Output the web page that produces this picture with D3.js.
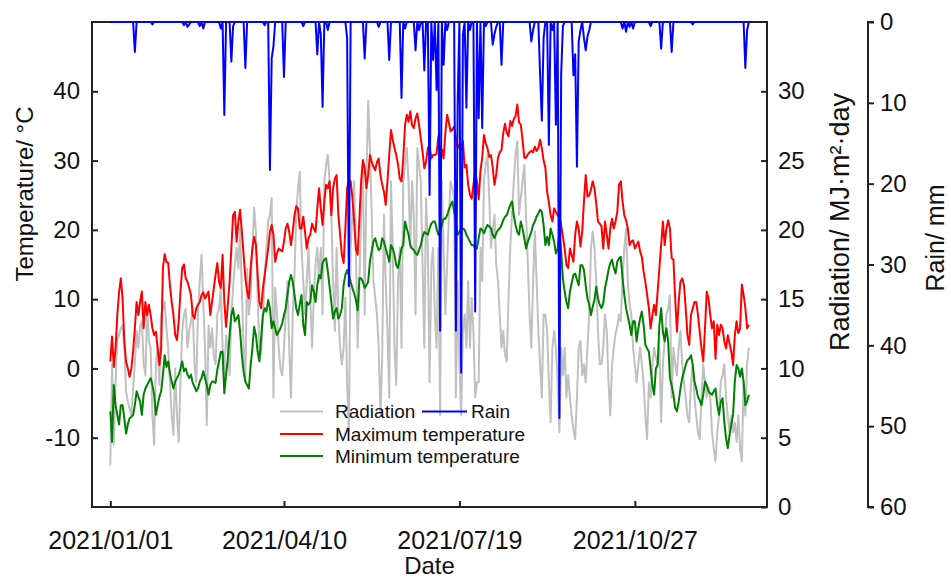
<!DOCTYPE html>
<html>
<head>
<meta charset="utf-8">
<script src="https://cdn.jsdelivr.net/npm/d3@7"></script>
<style>
  body { margin: 0; background: #fff; }
  svg { display: block; }
  text { font-family: "Liberation Sans", Arial, sans-serif; fill: #111; }
</style>
</head>
<body>
<svg id="chart" width="951" height="578"></svg>
<script>
// Daily weather record for 2021
const startDate = "2021-01-01";
const tickDates = ["2021-01-01", "2021-04-10", "2021-07-19", "2021-10-27"];
const tempTicks = [-10, 0, 10, 20, 30, 40];
const radTicks = [0, 5, 10, 15, 20, 25, 30];
const rainTicks = [0, 10, 20, 30, 40, 50, 60];

// Maximum temperature, °C
const tmax = [
  1.0, 4.6, 0.2, 2.9, 7.7, 11.0, 13.0, 10.1, 3.9, 1.0,
  0.0, -1.2, 0.0, 2.4, 5.8, 9.6, 7.7, 9.6, 11.1, 5.8,
  9.6, 7.7, 9.2, 7.7, 5.8, 4.8, 5.3, 2.9, 0.5, 2.9,
  14.5, 16.5, 15.4, 15.2, 12.0, 9.6, 7.7, 4.8, 4.1, 6.8,
  11.1, 14.5, 15.0, 13.0, 12.5, 11.6, 10.6, 7.7, 7.2, 8.7,
  9.2, 9.6, 10.6, 11.0, 10.1, 10.6, 11.1, 7.7, 9.6, 11.6,
  13.5, 15.2, 12.5, 11.6, 16.4, 9.6, 6.0, 9.2, 12.5, 17.3,
  22.1, 22.6, 18.3, 21.2, 22.9, 19.7, 16.4, 13.0, 11.1, 10.1,
  14.5, 17.3, 19.0, 17.8, 13.5, 9.6, 8.7, 11.6, 13.5, 15.4,
  17.3, 19.7, 20.7, 19.3, 15.4, 16.6, 17.3, 17.1, 16.9, 18.3,
  20.2, 20.9, 19.7, 17.8, 19.7, 22.1, 23.4, 23.1, 20.2, 20.2,
  21.9, 19.7, 17.3, 18.8, 19.3, 20.9, 20.2, 19.7, 23.1, 26.0,
  23.1, 20.7, 24.1, 26.5, 26.0, 27.0, 22.1, 26.0, 27.4, 27.9,
  22.1, 19.3, 16.4, 15.2, 20.2, 26.0, 27.2, 27.0, 24.6, 21.2,
  17.3, 16.4, 21.6, 27.0, 30.1, 28.9, 26.0, 27.9, 30.8, 29.8,
  29.1, 28.6, 29.8, 30.3, 27.9, 26.5, 25.5, 23.6, 27.0, 30.8,
  34.4, 33.0, 31.8, 30.8, 29.4, 27.4, 27.0, 30.3, 35.1, 36.6,
  35.6, 37.1, 35.1, 34.7, 36.1, 36.8, 35.1, 33.2, 31.3, 28.9,
  29.8, 31.8, 32.2, 30.3, 30.8, 30.8, 31.0, 33.5, 31.5, 31.6,
  30.3, 34.0, 36.6, 35.5, 34.2, 34.5, 34.9, 33.2, 31.8, 32.3,
  31.5, 32.8, 29.0, 29.4, 26.5, 25.1, 24.5, 26.5, 28.5, 27.0,
  24.4, 28.5, 30.4, 33.7, 32.5, 31.8, 30.5, 30.8, 29.0, 26.5,
  28.0, 30.4, 31.2, 31.5, 34.0, 35.3, 34.0, 33.5, 35.7, 35.0,
  36.0, 36.4, 38.1, 35.5, 35.2, 33.0, 30.4, 30.4, 30.9, 31.2,
  31.4, 31.2, 32.0, 31.4, 31.8, 33.0, 31.8, 30.0, 29.0, 25.5,
  24.0, 22.1, 21.2, 23.1, 22.6, 22.1, 22.1, 20.7, 19.0, 17.3,
  14.9, 14.5, 17.3, 16.4, 15.4, 19.3, 21.2, 20.2, 17.6, 19.7,
  24.1, 27.9, 24.8, 25.0, 25.8, 27.0, 26.0, 23.8, 21.2, 20.9,
  20.5, 17.3, 21.2, 19.3, 17.3, 20.2, 21.6, 20.2, 21.2, 22.6,
  26.5, 27.0, 24.1, 22.1, 21.4, 20.2, 17.8, 18.3, 18.5, 17.3,
  17.8, 18.3, 16.9, 16.1, 14.0, 12.5, 10.6, 8.7, 5.8, 7.7,
  9.2, 7.7, 11.1, 14.5, 17.8, 21.2, 17.8, 20.2, 21.4, 20.2,
  15.9, 15.7, 10.1, 5.3, 9.6, 12.5, 13.0, 12.0, 8.7, 4.8,
  3.4, 7.7, 8.7, 9.6, 9.6, 7.7, 5.3, 2.9, 1.0, 5.8,
  11.1, 10.1, 7.7, 5.8, 6.8, 1.4, 6.3, 4.8, 6.3, 5.8,
  3.9, 2.9, 4.8, 3.6, 2.4, 0.5, 4.8, 6.8, 5.1, 5.8,
  12.1, 10.6, 8.7, 5.8, 6.3
];

// Minimum temperature, °C
const tmin = [
  -6.2, -10.6, -2.4, -5.3, -6.7, -8.1, -5.3, -5.3, -7.2, -9.4,
  -8.1, -7.2, -7.0, -6.7, -5.3, -3.3, -4.1, -4.8, -6.7, -3.8,
  -2.9, -2.4, -1.9, -1.4, -2.4, -3.8, -6.7, -5.3, -4.1, -3.3,
  -0.9, 1.9, 0.2, 1.0, -0.7, -1.9, -2.9, -1.9, -1.4, -0.9,
  0.0, 1.0, -0.4, 0.0, -0.9, -1.4, -0.9, -2.1, -2.6, -3.3,
  -2.9, -1.9, -1.4, -0.4, -1.4, -2.4, -3.8, -2.4, -1.9, -1.9,
  -2.1, -0.2, 1.0, 2.4, 2.4, -3.6, -0.9, 1.4, 4.8, 7.7,
  8.7, 6.8, 7.2, 7.7, 5.3, 1.9, -0.5, -1.9, -2.4, -2.9,
  0.5, 2.9, 6.0, 4.8, 2.4, 1.0, 4.4, 7.7, 8.7, 8.2,
  9.9, 8.7, 5.8, 6.8, 5.8, 4.8, 5.3, 5.8, 6.5, 7.7,
  8.7, 10.6, 12.5, 13.5, 12.5, 10.6, 8.7, 7.7, 9.2, 10.6,
  6.3, 4.8, 9.6, 9.2, 9.6, 12.0, 11.1, 9.6, 12.0, 13.5,
  13.0, 15.2, 15.7, 15.9, 14.0, 11.8, 9.6, 7.2, 8.2, 8.7,
  7.2, 7.7, 8.7, 12.0, 13.5, 14.2, 13.5, 12.5, 11.6, 10.8,
  9.9, 8.4, 13.0, 13.0, 12.5, 11.6, 12.0, 12.5, 15.4, 16.9,
  18.3, 18.8, 17.8, 17.1, 17.3, 18.8, 18.3, 17.3, 16.4, 15.4,
  17.8, 17.3, 16.4, 14.9, 14.5, 15.9, 17.3, 17.8, 21.2, 20.2,
  19.3, 17.8, 17.3, 17.1, 16.6, 16.4, 17.1, 17.8, 19.0, 19.7,
  19.5, 19.3, 20.2, 20.9, 21.2, 21.2, 20.2, 19.3, 19.7, 20.7,
  21.6, 21.6, 22.1, 22.9, 23.6, 24.1, 22.6, 21.2, 19.3, 19.7,
  20.2, 20.2, 20.0, 19.3, 18.8, 18.3, 17.8, 17.8, 17.3, 17.3,
  18.8, 20.2, 20.0, 19.5, 20.2, 20.7, 20.5, 20.2, 19.3, 18.8,
  19.5, 20.0, 20.2, 20.7, 21.4, 21.9, 22.1, 22.9, 23.6, 24.1,
  22.1, 20.7, 19.7, 19.3, 21.2, 20.2, 18.8, 17.3, 18.3, 19.0,
  19.7, 20.7, 21.2, 21.9, 22.4, 22.9, 22.6, 20.7, 17.8, 19.0,
  17.8, 20.2, 19.3, 18.3, 16.6, 17.3, 19.7, 16.9, 13.0, 11.1,
  9.6, 8.7, 11.1, 12.3, 13.5, 13.7, 12.8, 12.0, 14.9, 14.9,
  14.2, 12.0, 10.1, 9.2, 7.7, 8.9, 9.9, 11.8, 10.1, 9.2,
  8.7, 9.4, 11.6, 12.8, 14.2, 15.2, 15.7, 14.5, 13.7, 15.4,
  15.9, 16.1, 13.0, 10.6, 8.7, 7.5, 6.3, 4.8, 6.8, 6.8,
  3.9, 5.8, 7.2, 8.2, 6.3, 3.4, 2.9, 2.4, 0.0, -2.4,
  -3.8, 0.0, 0.5, 6.3, 8.7, 5.3, 3.9, 5.8, 3.9, -1.4,
  -2.4, -3.8, -5.7, -6.2, -4.8, -2.9, -1.4, -0.5, 0.5, 1.2,
  1.4, 1.9, 0.5, -1.9, -2.9, -4.1, -4.6, -5.3, -3.8, -1.9,
  -2.4, -3.3, -3.6, -3.8, -3.3, -2.9, -5.3, -6.7, -4.8, -4.3,
  -7.7, -10.1, -11.5, -9.6, -8.1, -6.7, -1.9, 0.5, 0.0, -1.2,
  0.0, -1.9, -5.3, -4.8, -3.8
];

// Solar radiation, MJ·m⁻²·day⁻¹
const radiation = [
  3.0, 10.3, 4.5, 9.0, 12.0, 12.4, 12.9, 13.1, 11.5, 8.3,
  7.6, 7.1, 6.6, 8.6, 10.3, 12.7, 11.5, 13.1, 13.4, 10.3,
  9.5, 14.3, 12.0, 11.5, 6.6, 4.5, 10.3, 11.5, 8.8, 13.9,
  14.3, 14.8, 12.9, 11.5, 9.0, 6.6, 5.2, 10.0, 6.6, 4.7,
  9.0, 12.7, 13.9, 14.3, 11.5, 12.7, 13.4, 14.3, 10.3, 9.0,
  13.9, 16.3, 18.2, 14.8, 11.5, 5.9, 13.1, 11.5, 12.9, 10.9,
  10.3, 13.9, 14.3, 15.8, 11.5, 9.5, 12.4, 11.5, 9.5, 13.9,
  15.8, 17.5, 18.7, 17.2, 20.1, 15.5, 11.5, 9.0, 17.2, 13.9,
  15.1, 18.7, 21.6, 19.9, 15.1, 11.5, 11.0, 13.9, 16.3, 18.7,
  20.6, 21.1, 22.3, 7.9, 15.8, 13.9, 11.5, 10.0, 9.5, 11.5,
  13.9, 16.3, 11.5, 7.9, 13.9, 16.8, 21.1, 23.0, 24.2, 18.7,
  16.3, 13.9, 16.3, 18.7, 15.1, 11.5, 15.1, 17.5, 18.7, 16.3,
  18.7, 13.9, 23.5, 24.7, 25.4, 23.5, 21.1, 16.3, 12.7, 18.7,
  13.9, 11.5, 10.3, 11.5, 15.1, 9.0, 5.4, 18.7, 21.1, 23.5,
  18.7, 11.5, 16.3, 21.1, 24.7, 13.9, 23.5, 29.3, 25.9, 21.1,
  16.3, 15.1, 13.9, 11.5, 6.6, 10.9, 21.1, 16.3, 12.7, 7.9,
  23.5, 18.7, 11.5, 8.8, 16.3, 18.7, 11.5, 23.5, 24.7, 25.9,
  23.5, 18.7, 23.5, 21.1, 13.9, 25.9, 24.7, 23.5, 17.5, 11.5,
  22.3, 18.7, 9.0, 17.5, 18.7, 13.9, 11.5, 18.7, 6.6, 23.5,
  18.7, 13.9, 17.5, 21.1, 23.5, 23.0, 22.3, 7.9, 16.3, 10.3,
  6.6, 12.7, 13.9, 11.5, 16.3, 11.5, 15.1, 12.7, 7.9, 9.0,
  9.0, 18.7, 16.3, 23.5, 24.7, 25.4, 22.3, 18.7, 19.9, 21.1,
  17.5, 16.3, 13.9, 11.5, 12.7, 11.0, 10.5, 15.1, 18.7, 21.1,
  23.5, 25.4, 26.4, 21.1, 22.3, 23.5, 24.7, 21.1, 17.5, 13.9,
  11.5, 16.3, 19.9, 16.3, 12.7, 10.3, 7.9, 13.9, 13.9, 12.7,
  9.0, 6.1, 11.5, 12.7, 11.5, 9.0, 5.4, 11.5, 9.5, 11.5,
  7.9, 9.5, 7.9, 6.6, 5.6, 4.9, 7.9, 11.5, 12.0, 9.5,
  10.3, 9.0, 11.5, 13.9, 18.7, 19.9, 18.7, 16.3, 12.7, 10.3,
  10.3, 11.5, 13.9, 12.7, 9.0, 6.6, 10.3, 11.5, 12.5, 13.0,
  13.9, 13.4, 16.3, 18.7, 20.1, 16.3, 14.6, 13.9, 11.5, 10.3,
  9.0, 10.3, 11.5, 10.3, 9.0, 6.6, 4.9, 9.0, 7.9, 10.3,
  11.5, 10.8, 10.3, 11.5, 6.1, 10.3, 12.0, 13.9, 14.3, 15.3,
  7.9, 11.5, 10.3, 9.5, 11.5, 12.7, 10.3, 9.0, 7.9, 6.6,
  6.1, 9.0, 10.3, 7.9, 6.6, 5.4, 4.9, 7.9, 10.3, 9.0,
  7.9, 8.6, 7.9, 5.4, 4.2, 3.3, 5.4, 6.6, 9.0, 9.5,
  10.3, 7.9, 6.6, 5.4, 6.6, 5.4, 6.1, 4.7, 6.6, 4.2,
  3.3, 9.0, 6.6, 10.3, 11.5
];

// Daily rainfall, mm
const rain = [
  0, 0, 0, 0, 0, 0, 0, 0, 0, 0,
  0, 0, 0, 0, 3.7, 0, 0, 0, 0, 0,
  0, 0, 0, 0, 0.3, 0, 0, 0, 0, 0,
  0, 0, 0, 0, 0, 0, 0, 0, 0, 0,
  0, 0, 0.4, 0, 0.6, 0.3, 0, 0, 0, 0,
  0, 0.5, 0, 0.8, 0, 0, 0, 0, 0, 0,
  0, 0, 0, 0.8, 0, 11.5, 0, 0, 0, 4.9,
  0.5, 0, 0, 0, 0, 0, 0, 5.7, 0, 0,
  0, 0, 0, 0, 0, 0, 0, 0, 0.4, 0,
  0, 18.3, 4.5, 3.0, 0, 0, 0, 0, 0, 6.8,
  0, 0, 0, 0, 0, 0, 0, 0, 0, 0,
  0.5, 0, 0, 0, 0, 0, 0, 0, 4.0, 0,
  1.5, 10.5, 0, 0, 1.0, 0, 0, 0, 0, 0,
  0, 0, 0, 0, 0, 2.0, 32.7, 0, 0, 0,
  0, 0, 0, 0, 0, 4.5, 0, 0, 0, 0,
  0, 0, 0, 0.6, 0, 0, 0, 0, 0, 4.7,
  0, 0, 0, 0, 0, 0, 9.4, 0, 0.8, 0,
  0, 0, 0, 0, 3.5, 0, 1.0, 0, 0, 6.0,
  0, 0, 21.4, 0, 4.7, 0, 8.4, 0, 38.2, 0,
  5.3, 0, 1.0, 0, 0, 0, 0, 38.2, 10.2, 0,
  43.4, 1.6, 0, 10.6, 0, 1.0, 0, 0, 35.8, 0,
  11.9, 0, 13.1, 0, 0.5, 0, 0, 0, 2.8, 1.5,
  0.6, 0, 0, 5.3, 0, 0, 0, 0, 0, 0,
  0, 0, 0, 0, 0, 0, 0, 0, 0, 0,
  2.4, 1.0, 0, 0, 0, 6.5, 12.2, 2.0, 0, 0,
  15.2, 0, 1.0, 0, 12.7, 0, 49.0, 6.6, 0.5, 0,
  0, 0, 0, 0, 6.6, 4.0, 17.9, 2.4, 1.0, 0,
  2.0, 3.5, 1.8, 1.0, 0, 0, 0, 0, 0, 0,
  0, 0, 0, 0, 0, 0, 0, 0, 0, 0,
  0, 0, 0.8, 0, 1.2, 0, 0.6, 0, 0.8, 0,
  0, 0, 0, 0, 0, 0, 0, 0, 0.5, 0,
  0, 0, 0, 0, 3.3, 0, 0, 0, 0, 0,
  3.7, 0, 0, 0, 0, 0, 0, 0, 0, 0,
  0, 0, 0.3, 0, 0, 0, 0, 0, 0, 0,
  0, 0, 0, 0, 0, 0, 0, 0, 0, 0,
  0, 0, 0, 0, 0, 0, 0, 0, 0, 0,
  0, 0, 5.7, 1.0, 0
];

const svg = d3.select("#chart");
const plot = { left: 92, right: 767, top: 22, bottom: 507 };
const rainAxisX = 868;
const axisColor = "#222";

const parseDay = d3.utcParse("%Y-%m-%d");
const day0 = parseDay(startDate);
const DAY = 864e5;
const dateAt = i => new Date(day0.getTime() + i * DAY);

const x = d3.scaleUtc()
  .domain([dateAt(-10.43), dateAt(374.34)])
  .range([plot.left, plot.right]);
const yTemp = d3.scaleLinear().domain([-20, 50]).range([plot.bottom, plot.top]);
const yRad = d3.scaleLinear().domain([0, 35]).range([plot.bottom, plot.top]);
const yRain = d3.scaleLinear().domain([0, 60]).range([plot.top, plot.bottom]);

// plain hyphen-minus for negative tick labels
const plainNum = d => String(d);

function styleAxis(g, size) {
  g.select(".domain").remove();
  g.selectAll(".tick line").attr("stroke", axisColor).attr("stroke-width", 2);
  g.selectAll(".tick text")
    .style("font-size", size + "px")
    .attr("fill", "#111");
}

// Left temperature axis (ticks point inward)
svg.append("g")
  .attr("transform", `translate(${plot.left},0)`)
  .call(d3.axisLeft(yTemp).tickValues(tempTicks).tickFormat(plainNum).tickSize(-6).tickPadding(12))
  .call(g => styleAxis(g, 24));

// Right radiation axis
svg.append("g")
  .attr("transform", `translate(${plot.right},0)`)
  .call(d3.axisRight(yRad).tickValues(radTicks).tickFormat(plainNum).tickSize(-6).tickPadding(11))
  .call(g => styleAxis(g, 24));

// Bottom date axis
svg.append("g")
  .attr("transform", `translate(0,${plot.bottom})`)
  .call(d3.axisBottom(x)
    .tickValues(tickDates.map(parseDay))
    .tickFormat(d3.utcFormat("%Y/%m/%d"))
    .tickSize(-6).tickPadding(24))
  .call(g => styleAxis(g, 25));

// Offset rain axis
svg.append("g")
  .attr("transform", `translate(${rainAxisX},0)`)
  .call(d3.axisRight(yRain).tickValues(rainTicks).tickFormat(plainNum).tickSize(6).tickPadding(6))
  .call(g => {
    g.select(".domain").attr("stroke", axisColor).attr("stroke-width", 2)
      .attr("d", `M6,${plot.top}H0V${plot.bottom}H6`);
    g.selectAll(".tick line").attr("stroke", axisColor).attr("stroke-width", 2);
    g.selectAll(".tick text").style("font-size", "24px").attr("fill", "#111");
  });

// Plot frame
svg.append("rect")
  .attr("x", plot.left).attr("y", plot.top)
  .attr("width", plot.right - plot.left).attr("height", plot.bottom - plot.top)
  .attr("fill", "none").attr("stroke", axisColor).attr("stroke-width", 2);

// Series lines
const idx = d3.range(tmax.length);
const seriesLine = (scale, values) => d3.line()
  .x(i => x(dateAt(i)))
  .y(i => scale(values[i]))(idx);

const lines = svg.append("g").attr("fill", "none").attr("stroke-linejoin", "round");
lines.append("path").attr("d", seriesLine(yRad, radiation)).attr("stroke", "#c0c0c0").attr("stroke-width", 2);
lines.append("path").attr("d", seriesLine(yTemp, tmax)).attr("stroke", "#ff0000").attr("stroke-width", 2);
lines.append("path").attr("d", seriesLine(yTemp, tmin)).attr("stroke", "#008000").attr("stroke-width", 2);
lines.append("path").attr("d", seriesLine(yRain, rain)).attr("stroke", "#0000ff").attr("stroke-width", 2);

// Legend
const legend = svg.append("g").style("font-size", "19px");
const legendItems = [
  { label: "Radiation", color: "#c0c0c0", x: 280, y: 411.5 },
  { label: "Rain", color: "#0000ff", x: 422, y: 411.5, len: 45, gap: 4 },
  { label: "Maximum temperature", color: "#ff0000", x: 280, y: 434 },
  { label: "Minimum temperature", color: "#008000", x: 280, y: 456 }
];
legendItems.forEach(d => {
  const len = d.len || 43;
  const gap = d.gap || 12;
  legend.append("line")
    .attr("x1", d.x).attr("x2", d.x + len)
    .attr("y1", d.y).attr("y2", d.y)
    .attr("stroke", d.color).attr("stroke-width", 2);
  legend.append("text")
    .attr("x", d.x + len + gap).attr("y", d.y)
    .attr("dy", "0.35em")
    .text(d.label);
});

// Axis titles
svg.append("text")
  .attr("transform", "translate(33,194) rotate(-90)")
  .attr("text-anchor", "middle")
  .style("font-size", "24px")
  .text("Temperature/ °C");

svg.append("text")
  .attr("transform", "translate(849,222) rotate(-90)")
  .attr("text-anchor", "middle")
  .style("font-size", "27px")
  .text("Radiation/ MJ·m²·day");

svg.append("text")
  .attr("transform", "translate(944,238) rotate(-90)")
  .attr("text-anchor", "middle")
  .style("font-size", "25px")
  .text("Rain/ mm");

svg.append("text")
  .attr("x", (plot.left + plot.right) / 2)
  .attr("y", 574)
  .attr("text-anchor", "middle")
  .style("font-size", "24px")
  .text("Date");
</script>
</body>
</html>
